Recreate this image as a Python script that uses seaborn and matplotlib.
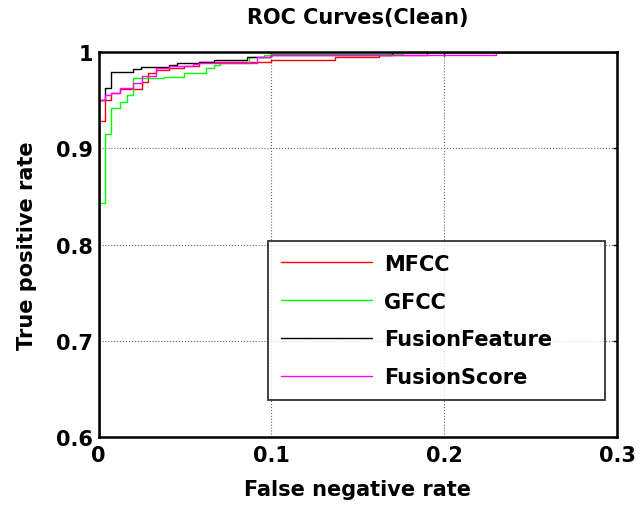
import matplotlib
matplotlib.use("Agg")
import matplotlib.pyplot as plt
import seaborn as sns
import pandas as pd

# ---- data (step points: each point starts a new level) ----
mfcc_fpr = [0.0, 0.0, 0.0037, 0.0075, 0.0127, 0.0252, 0.0287, 0.0333, 0.041, 0.0493, 0.058, 0.0917, 0.1, 0.137, 0.162, 0.19, 0.3]
mfcc_tpr = [0.0, 0.928, 0.950, 0.957, 0.9615, 0.9684, 0.978, 0.981, 0.9833, 0.9858, 0.9892, 0.990, 0.9917, 0.9946, 0.9972, 1.0, 1.0]

gfcc_fpr = [0.0, 0.0, 0.0037, 0.0075, 0.0127, 0.0166, 0.0198, 0.0378, 0.0493, 0.0622, 0.0667, 0.0705, 0.0869, 0.0956, 0.1, 0.176, 0.3]
gfcc_tpr = [0.0, 0.8434, 0.9153, 0.9417, 0.9486, 0.9556, 0.9726, 0.9743, 0.9778, 0.983, 0.9868, 0.989, 0.9944, 0.9969, 0.998, 1.0, 1.0]

feat_fpr = [0.0, 0.0, 0.0037, 0.0075, 0.0198, 0.0248, 0.041, 0.0455, 0.058, 0.0667, 0.086, 0.1, 0.17, 0.3]
feat_tpr = [0.0, 0.950, 0.9622, 0.9795, 0.9823, 0.9847, 0.9868, 0.9882, 0.9892, 0.9917, 0.9944, 0.9965, 1.0, 1.0]

score_fpr = [0.0, 0.0, 0.0037, 0.0075, 0.0127, 0.0198, 0.0252, 0.0333, 0.041, 0.0547, 0.058, 0.0917, 0.1, 0.23, 0.3]
score_tpr = [0.0, 0.950, 0.9556, 0.957, 0.9622, 0.9674, 0.9753, 0.983, 0.9858, 0.9875, 0.989, 0.9944, 0.997, 1.0, 1.0]

series_names = ["MFCC", "GFCC", "FusionFeature", "FusionScore"]
series_colors = ["#ff0000", "#00ff00", "#000000", "#ff00ff"]

x_ticks = [0, 0.1, 0.2, 0.3]
x_tick_labels = ["0", "0.1", "0.2", "0.3"]
y_ticks = [0.6, 0.7, 0.8, 0.9, 1.0]
y_tick_labels = ["0.6", "0.7", "0.8", "0.9", "1"]

frames = []
for name, fx, fy in zip(series_names,
                        [mfcc_fpr, gfcc_fpr, feat_fpr, score_fpr],
                        [mfcc_tpr, gfcc_tpr, feat_tpr, score_tpr]):
    frames.append(pd.DataFrame({"fpr": fx, "tpr": fy, "method": name}))
df = pd.concat(frames, ignore_index=True)

sns.set_theme(style="white")
plt.rcParams["font.family"] = ["DejaVu Sans"]
plt.rcParams["font.weight"] = "bold"
plt.rcParams["text.color"] = "black"
plt.rcParams["axes.labelcolor"] = "black"

FS = 15

fig = plt.figure(figsize=(6.41, 5.10), dpi=100)
ax = fig.add_axes([0.1537, 0.141, 0.8089, 0.755])

for name, color in zip(series_names, series_colors):
    sub = df[df["method"] == name]
    sns.lineplot(data=sub, x="fpr", y="tpr", ax=ax, color=color, label=name,
                 drawstyle="steps-post", estimator=None, sort=False,
                 linewidth=1.0)

ax.set_xlim(0, 0.3)
ax.set_ylim(0.6, 1.0)
ax.set_xticks(x_ticks)
ax.set_xticklabels(x_tick_labels)
ax.set_yticks(y_ticks)
ax.set_yticklabels(y_tick_labels)
ax.tick_params(axis="both", which="both", direction="in", length=3, width=1,
               labelsize=FS, top=True, right=True, colors="black")
ax.tick_params(axis="x", pad=6)
ax.tick_params(axis="y", pad=4)
for lab in ax.get_xticklabels() + ax.get_yticklabels():
    lab.set_fontweight("bold")

ax.grid(True, linestyle=":", color="#666666", linewidth=0.8)
for sp in ax.spines.values():
    sp.set_visible(True)
    sp.set_color("black")
    sp.set_linewidth(1.8)

ax.set_title("ROC Curves(Clean)", fontsize=FS, fontweight="bold", pad=21)
ax.set_xlabel("False negative rate", fontsize=FS, fontweight="bold", labelpad=10)
ax.set_ylabel("True positive rate", fontsize=FS, fontweight="bold", labelpad=14)

leg = ax.legend(loc="upper left", bbox_to_anchor=(0.327, 0.509, 0.65, 0.0),
                mode="expand", fontsize=FS, handlelength=4.4, handletextpad=0.55,
                labelspacing=0.86, borderpad=0.6, frameon=True, fancybox=False,
                borderaxespad=0)
leg.get_frame().set_edgecolor("black")
leg.get_frame().set_linewidth(1.3)
for t in leg.get_texts():
    t.set_fontweight("bold")

fig.savefig("out.png", dpi=100)
